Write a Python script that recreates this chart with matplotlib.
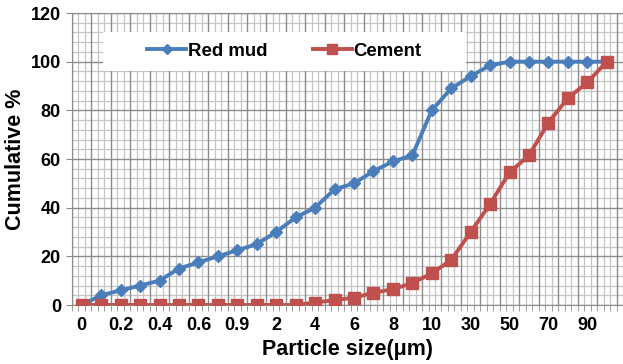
import matplotlib
matplotlib.use("Agg")
import matplotlib.pyplot as plt
from matplotlib.patches import Rectangle
import numpy as np

# ---------------------------------------------------------------------------
# Data (categorical particle sizes, um)
# ---------------------------------------------------------------------------
sizes = ["0", "0.1", "0.2", "0.3", "0.4", "0.5", "0.6", "0.8", "0.9", "1",
         "2", "3", "4", "5", "6", "7", "8", "9", "10",
         "20", "30", "40", "50", "60", "70", "80", "90", "100"]
red_mud = [0, 4, 6, 8, 10, 15, 17.5, 20, 22.5, 25,
           30, 36, 40, 47.5, 50, 55, 59, 61.5, 80,
           89, 94, 98.5, 100, 100, 100, 100, 100, 100]
cement = [0, 0, 0, 0, 0, 0, 0, 0, 0, 0,
          0, 0, 1, 2, 3, 5, 6.5, 9, 13,
          18.5, 30, 41.5, 54.5, 61.5, 75, 85, 91.5, 100]

BLUE = "#4a7ebb"
RED = "#c0504d"

plt.rcParams['font.family'] = ['Liberation Sans', 'DejaVu Sans']
plt.rcParams['font.weight'] = 'bold'

fig = plt.figure(figsize=(6.23, 3.64), dpi=100)
ax = fig.add_axes([72 / 623, 1 - 305 / 364, 551 / 623, 292 / 364])

x = np.arange(len(sizes))

# ---------------------------------------------------------------------------
# Grid: dark at category boundaries / every 20, light at thirds / every 4
# ---------------------------------------------------------------------------
n = len(sizes)
for b in np.arange(-0.5, n, 1.0):
    ax.axvline(b, color="#8c8c8c", lw=1.0, zorder=1)
    for k in (1, 2):
        ax.axvline(b + k / 3, color="#c4c4c4", lw=0.9, zorder=0.5)
ax.set_yticks(np.arange(0, 121, 20))
ax.set_yticks(np.arange(0, 121, 4), minor=True)
ax.grid(True, which="major", axis="y", color="#8c8c8c", lw=1.0, zorder=1)
ax.grid(True, which="minor", axis="y", color="#c4c4c4", lw=0.9, zorder=0.5)
ax.set_axisbelow(True)

# ---------------------------------------------------------------------------
# Series
# ---------------------------------------------------------------------------
l1, = ax.plot(x, red_mud, color=BLUE, lw=2.8, marker="D", ms=6.5,
              label="Red mud", zorder=3)
l2, = ax.plot(x, cement, color=RED, lw=2.8, marker="s", ms=9,
              label="Cement", zorder=4)

ax.set_xlim(-0.5, 27.35)
ax.set_ylim(0, 120)

ax.set_xticks(x[::2])
ax.set_xticklabels(sizes[::2])
ax.set_xticks(np.arange(-0.5, n, 1 / 3), minor=True)
ax.tick_params(axis="x", which="major", length=0, pad=9, labelsize=13)
ax.tick_params(axis="x", which="minor", length=4, color="#8c8c8c")
ax.tick_params(axis="y", which="major", length=4, color="#8c8c8c",
               labelsize=13, pad=4)
ax.tick_params(axis="y", which="minor", length=0)
for lab in ax.get_xticklabels() + ax.get_yticklabels():
    lab.set_fontweight("bold")

for s in ax.spines.values():
    s.set_color("#8c8c8c")
ax.spines["right"].set_visible(False)

ax.set_xlabel("Particle size(μm)", fontsize=15.5, fontweight="bold", labelpad=3)
ax.set_ylabel("Cumulative %", fontsize=15.5, fontweight="bold", labelpad=3)

# legend block (white box over the grid)
x0, x1 = (103 - 72) / 551, (466 - 72) / 551
y0, y1 = (305 - 71) / 292, (305 - 32) / 292
ax.add_patch(Rectangle((x0, y0), x1 - x0, y1 - y0, transform=ax.transAxes,
                       facecolor="white", edgecolor="none", zorder=2))
leg = ax.legend(handles=[l1, l2], ncol=2, frameon=False,
                loc="center", bbox_to_anchor=((x0 + x1) / 2, (y0 + y1) / 2),
                prop={"weight": "bold", "size": 13.4},
                handlelength=2.1, handletextpad=0.1, columnspacing=2.4,
                markerscale=0.8)
leg.set_zorder(5)

fig.savefig("out.png", dpi=100)
